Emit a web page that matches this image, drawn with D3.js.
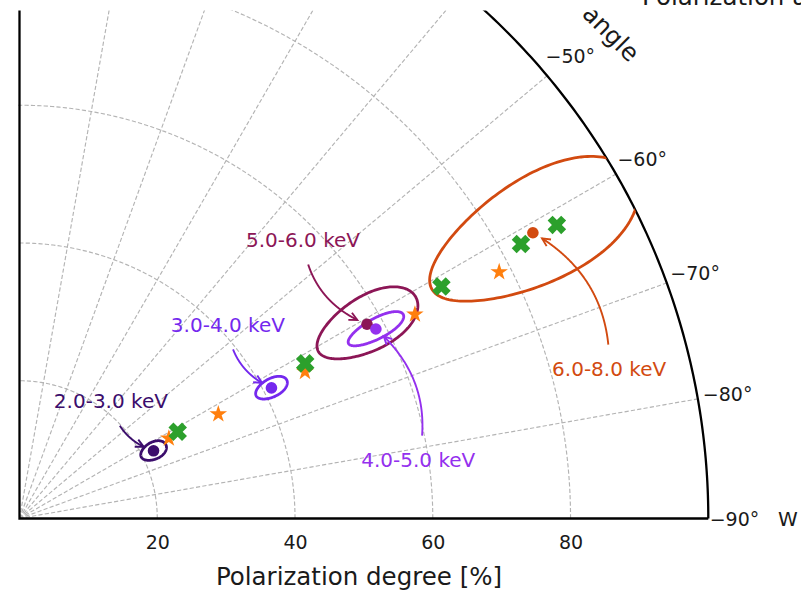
<!DOCTYPE html>
<html><head><meta charset="utf-8">
<script src="https://cdn.jsdelivr.net/npm/d3@7"></script>
<style>
body{margin:0;background:#fff}
svg{display:block}
text{font-family:'DejaVu Sans',sans-serif}
</style>
</head><body>
<script>
// ---------------- data ----------------
const energyBins = ["2.0-3.0 keV", "3.0-4.0 keV", "4.0-5.0 keV", "5.0-6.0 keV", "6.0-8.0 keV"];
// measured polarization (dots + confidence contours)
const pdMeasured = [21.8, 41.2, 58.6, 57.8, 85.3];
const paMeasured = [-63.2, -62.6, -62.0, -60.8, -60.9];
const pdErr = [2.0, 2.5, 4.5, 8.1, 16.8];     // contour half-width in PD (%)
const paErr = [3.25, 1.85, 1.45, 3.9, 5.1];   // contour half-width in PA (deg)
// model A (orange stars)
const pdModelA = [24.6, 32.6, 46.6, 64.6, 78.3];
const paModelA = [-61.8, -62.3, -62.8, -62.7, -62.8];
// model B (green crosses)
const pdModelB = [26.2, 47.2, 69.9, 83.0, 88.9];
const paModelB = [-61.25, -61.5, -61.2, -61.3, -61.35];
// axis ticks
const radialTicks = [20, 40, 60, 80];
const angleTicks = [-90, -80, -70, -60, -50, -40, -30, -20, -10, 0];
const xLabel = "Polarization degree [%]";
const thetaLabel = "Polarization angle";

// ---------------- layout / style ----------------
const binColors = ["#3b0d6c", "#7428ee", "#9430ee", "#8c1656", "#d24a10"];
const labelPD = [21.6, 41.3, 58.5, 57.7, 88.3];
const labelPA = [-37.9, -47.1, -81.7, -45.5, -75.8];
const W = 801, H = 591;
const ox = 19.5, oy = 518.5, R = 688.8;
const tickFont = 19, annFont = 20, labelFont = 24.5;

const svg = d3.select("body").append("svg").attr("width", W).attr("height", H);
const defs = svg.append("defs");
defs.append("clipPath").attr("id", "frameClip")
  .append("rect").attr("x", 0).attr("y", 10.5).attr("width", W).attr("height", H - 10.5);

const r = d3.scaleLinear().domain([0, 100]).range([0, R]);
const ang = d3.scaleLinear().domain([-90, 0]).range([Math.PI / 2, 0]);
const P = (pd, pa) => { const p = d3.pointRadial(ang(pa), r(pd)); return [ox + p[0], oy + p[1]]; };

defs.append("clipPath").attr("id", "polarClip")
  .append("circle").attr("cx", ox).attr("cy", oy).attr("r", R);

const root = svg.append("g").attr("clip-path", "url(#frameClip)");
const gp = root.append("g").attr("transform", `translate(${ox},${oy})`);

// ---------------- grid ----------------
const gridStyle = s => s.attr("fill", "none").attr("stroke", "#b4b4b4")
  .attr("stroke-width", 1.15).attr("stroke-dasharray", "4.2,2.2");
const arcAngles = d3.range(0, 91, 0.5).map(v => -90 + v);
const radialLine = d3.lineRadial().angle(d => ang(d[1])).radius(d => r(d[0]));
gp.selectAll(".rgrid").data(radialTicks).join("path")
  .attr("d", v => radialLine(arcAngles.map(a => [v, a]))).call(gridStyle);
gp.selectAll(".agrid").data(angleTicks.filter(a => a > -90 && a < 0)).join("path")
  .attr("d", a => radialLine([[0, a], [100, a]])).call(gridStyle);

// ---------------- contours ----------------
const tt = d3.range(0, 361, 2).map(d => d * Math.PI / 180);
const contourClipG = root.append("g").attr("clip-path", "url(#polarClip)")
  .append("g").attr("transform", `translate(${ox},${oy})`);
energyBins.forEach((b, i) => {
  const pts = tt.map(t => [pdMeasured[i] + pdErr[i] * Math.cos(t), paMeasured[i] + paErr[i] * Math.sin(t)]);
  contourClipG.append("path").attr("d", radialLine(pts) + "Z")
    .attr("fill", "none").attr("stroke", binColors[i])
    .attr("stroke-width", 2.8);
});

// ---------------- spines ----------------
const spinePts = [[100, 0], [0, 0], [0, -90], [100, -90]];
gp.append("path").attr("d", radialLine(spinePts))
  .attr("fill", "none").attr("stroke", "#000").attr("stroke-width", 2.3).attr("stroke-linejoin", "miter");
gp.append("path").attr("d", radialLine(arcAngles.map(a => [100, a])))
  .attr("fill", "none").attr("stroke", "#000").attr("stroke-width", 2.3);

// ---------------- measured dots (5-6 below 4-5) ----------------
const dotOrder = [0, 1, 3, 2, 4];
dotOrder.forEach(i => {
  const p = P(pdMeasured[i], paMeasured[i]);
  root.append("circle").attr("cx", p[0]).attr("cy", p[1]).attr("r", 5.8).attr("fill", binColors[i]);
});

// ---------------- model markers ----------------
function starPath(Ro) {
  const Ri = Ro * 0.382, pts = [];
  for (let k = 0; k < 10; k++) {
    const a = -Math.PI / 2 + k * Math.PI / 5, rr = k % 2 ? Ri : Ro;
    pts.push([rr * Math.cos(a), rr * Math.sin(a)]);
  }
  return "M" + pts.map(p => p.join(",")).join("L") + "Z";
}
function crossPath(L, w) {
  const base = [[w, w], [w, L], [-w, L], [-w, w], [-L, w], [-L, -w], [-w, -w], [-w, -L], [w, -L], [w, -w], [L, -w], [L, w]];
  const c = Math.SQRT1_2;
  const pts = base.map(([x, y]) => [(x - y) * c, (x + y) * c]);
  return "M" + pts.map(p => p.join(",")).join("L") + "Z";
}
root.selectAll(".star").data(pdModelA).join("path")
  .attr("transform", (d, i) => `translate(${P(d, paModelA[i])})`)
  .attr("d", starPath(9.2)).attr("fill", "#ff7f0e");
root.selectAll(".cross").data(pdModelB).join("path")
  .attr("transform", (d, i) => `translate(${P(d, paModelB[i])})`)
  .attr("d", crossPath(9.6, 3.5)).attr("fill", "#2ca02c");

// ---------------- annotations ----------------
const ctx = document.createElement("canvas").getContext("2d");
ctx.font = `${annFont}px "DejaVu Sans"`;
energyBins.forEach((b, i) => {
  const T = P(labelPD[i], labelPA[i]);
  const E = P(pdMeasured[i], paMeasured[i]);
  const dx = E[0] - T[0], dy = E[1] - T[1];
  const rad = 0.3;
  const C = [(T[0] + E[0]) / 2 - rad * dy, (T[1] + E[1]) / 2 + rad * dx];
  const bez = t => [(1 - t) * (1 - t) * T[0] + 2 * t * (1 - t) * C[0] + t * t * E[0],
                    (1 - t) * (1 - t) * T[1] + 2 * t * (1 - t) * C[1] + t * t * E[1]];
  const hw = ctx.measureText(b).width / 2 + 5, hh = 24.5;
  const samples = d3.range(0, 1.0001, 0.002).map(bez);
  const pts = samples.filter(p => (Math.abs(p[0] - T[0]) > hw || Math.abs(p[1] - T[1]) > hh)
    && Math.hypot(p[0] - E[0], p[1] - E[1]) > 10.5);
  const line = d3.line();
  root.append("path").attr("d", line(pts)).attr("fill", "none")
    .attr("stroke", binColors[i]).attr("stroke-width", 1.9);
  const tip = pts[pts.length - 1], prev = pts[pts.length - 6];
  const th = Math.atan2(tip[1] - prev[1], tip[0] - prev[0]);
  const hl = 9, ha = 0.46;
  const h1 = [tip[0] - hl * Math.cos(th - ha), tip[1] - hl * Math.sin(th - ha)];
  const h2 = [tip[0] - hl * Math.cos(th + ha), tip[1] - hl * Math.sin(th + ha)];
  root.append("path").attr("d", line([h1, tip, h2])).attr("fill", "none")
    .attr("stroke", binColors[i]).attr("stroke-width", 1.9);
  root.append("text").attr("x", T[0]).attr("y", T[1]).attr("text-anchor", "middle")
    .attr("dominant-baseline", "central").attr("font-size", annFont)
    .attr("fill", binColors[i]).text(b);
});

// ---------------- axis labels ----------------
const xAxis = d3.axisBottom(d3.scaleLinear().domain([0, 100]).range([ox, ox + R]))
  .tickValues(radialTicks).tickSize(0).tickPadding(17.5).tickFormat(d3.format("d"));
const xg = svg.append("g").attr("transform", `translate(0,${oy})`).call(xAxis);
xg.select(".domain").remove();
xg.selectAll("text").attr("font-size", tickFont).attr("font-family", "DejaVu Sans").attr("fill", "#1a1a1a");

// only the angle labels that fall inside the visible frame
const angPos = a => { const p = d3.pointRadial(ang(a), a === -90 ? 715 : 719); return [ox + p[0], oy + p[1]]; };
root.selectAll(".atick").data(angleTicks.filter(a => angPos(a)[1] > 25)).join("text")
  .attr("transform", a => `translate(${angPos(a)})`)
  .attr("text-anchor", "middle").attr("dominant-baseline", "central")
  .attr("font-size", tickFont).attr("fill", "#1a1a1a")
  .text(a => (a < 0 ? "\u2212" + Math.abs(a) : a) + "\u00b0");

svg.append("text").attr("x", 359).attr("y", 585).attr("text-anchor", "middle")
  .attr("font-size", labelFont).attr("fill", "#1a1a1a").text(xLabel);

const tp = d3.pointRadial(ang(-45), 753);
root.append("text").attr("transform", `translate(${ox + tp[0]},${oy + tp[1]}) rotate(45)`)
  .attr("text-anchor", "middle").attr("font-size", labelFont).attr("fill", "#1a1a1a").text(thetaLabel);

svg.append("text").attr("x", 642).attr("y", 4.5).attr("font-size", labelFont).attr("fill", "#1a1a1a").text(thetaLabel);
svg.append("text").attr("x", 778).attr("y", 526).attr("font-size", tickFont + 1).attr("fill", "#1a1a1a").text("W");
</script>
</body></html>
